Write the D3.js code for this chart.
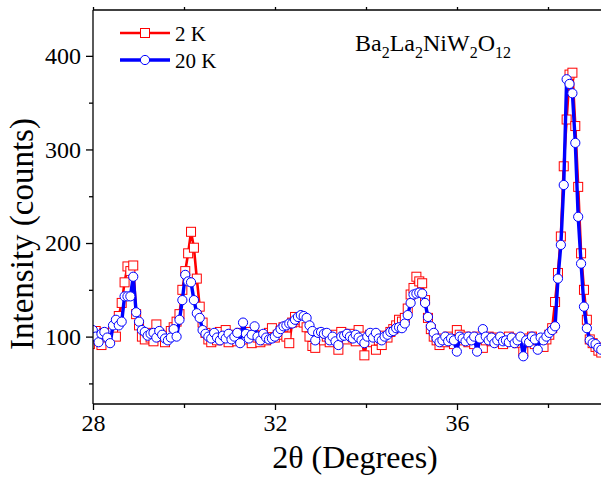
<!DOCTYPE html>
<html><head><meta charset="utf-8">
<script src="https://cdn.jsdelivr.net/npm/d3@7"></script>
<style>body{margin:0;background:#fff}svg{display:block}text{font-family:'Liberation Serif','Times New Roman',serif}</style>
</head><body>
<script>
// 2θ grid (degrees): start + step*i
const thetaStart = 27.932;
const thetaStep = 0.0635;
// Intensity at 2 K (red squares)
const counts2K = [92,100,106,97,91,104,99,102,106,100,
 122,136,158,175,170,176,124,112,100,97,
 104,99,95,113,103,100,94,101,106,110,
 116,124,150,170,189,212,195,162,132,115,
 104,97,94,102,96,105,99,107,94,102,
 98,95,104,100,97,105,93,102,99,94,
 101,96,104,109,99,102,106,110,100,93,
 115,121,116,118,115,110,100,90,88,99,
 103,96,100,94,98,102,86,105,100,97,
 103,99,95,107,100,80,97,102,94,86,
 96,91,101,99,105,108,112,118,116,120,
 130,145,152,164,159,157,139,120,108,100,
 96,91,98,94,100,96,92,107,102,96,
 100,94,98,92,100,97,88,96,100,95,
 99,94,98,92,97,100,95,98,93,96,
 84,94,98,100,92,96,94,89,97,102,
 109,137,168,207,282,332,380,382,325,260,
 189,150,118,97,93,89,85,83];
// Intensity at 20 K (blue circles)
const counts20K = [105,107,100,94,103,105,99,93,112,118,
 112,116,143,143,143,164,126,116,107,105,
 101,103,104,99,106,102,98,96,99,108,
 100,118,139,166,159,158,139,125,120,107,
 103,100,98,104,99,96,101,98,103,97,
 100,104,93,115,103,98,102,111,100,96,
 103,99,97,98,100,104,108,111,112,114,
 114,118,121,123,122,120,112,106,96,104,
 105,103,104,96,100,95,91,100,101,103,
 100,98,102,99,96,93,100,104,99,104,
 98,96,100,102,105,106,109,110,109,114,
 123,136,145,146,147,146,136,121,111,104,
 98,94,96,100,95,98,96,84,100,98,
 95,100,96,100,84,98,108,100,96,99,
 93,96,100,95,96,94,99,93,96,100,
 79,96,94,100,97,86,99,96,100,104,
 107,111,162,198,262,375,370,360,307,228,
 178,132,109,96,93,92,88,86];
const xTicks = [28, 32, 36];
const xMinor = [30, 34, 38];
const yTicks = [100, 200, 300, 400];
const yMinor = [50, 150, 250, 350];

const W = 601, H = 477;
const svg = d3.select("body").append("svg").attr("width", W).attr("height", H);
const x = d3.scaleLinear().domain([28, 39.5]).range([93, 616.25]);
const y = d3.scaleLinear().domain([28, 449]).range([404, 10]);
const font = "'Liberation Serif','Times New Roman',serif";

const d2 = counts2K.map((v,i)=>({t: thetaStart + thetaStep*i, v}));
const d20 = counts20K.map((v,i)=>({t: thetaStart + thetaStep*i, v}));

svg.append("defs").append("clipPath").attr("id","clip")
  .append("rect").attr("x",93).attr("y",10).attr("width",W-93).attr("height",394);

const g = svg.append("g").attr("clip-path","url(#clip)");
const line = d3.line().x(d=>x(d.t)).y(d=>y(d.v));

g.append("path").datum(d2).attr("d", line).attr("fill","none").attr("stroke","#ff0000").attr("stroke-width",2.6).attr("stroke-linejoin","round");
g.selectAll("rect.sq").data(d2).join("rect").attr("class","sq")
  .attr("x", d=>x(d.t)-4.5).attr("y", d=>y(d.v)-4.5).attr("width",9).attr("height",9)
  .attr("fill","#fff").attr("stroke","#ff0000").attr("stroke-width",1);
g.append("path").datum(d20).attr("d", line).attr("fill","none").attr("stroke","#0000ff").attr("stroke-width",3.4).attr("stroke-linejoin","round");
g.selectAll("circle.ci").data(d20).join("circle").attr("class","ci")
  .attr("cx", d=>x(d.t)).attr("cy", d=>y(d.v)).attr("r",4.6)
  .attr("fill","#fff").attr("stroke","#0000ff").attr("stroke-width",1);

// axes
const ax = svg.append("g").attr("stroke","#000").attr("stroke-width",1.3);
ax.append("line").attr("x1",93).attr("x2",W).attr("y1",404).attr("y2",404);
ax.append("line").attr("x1",93).attr("x2",W).attr("y1",10).attr("y2",10);
ax.append("line").attr("x1",93).attr("x2",93).attr("y1",10).attr("y2",404);

const bottomAxis = d3.axisBottom(x).tickValues(xTicks).tickSize(6).tickPadding(4).tickFormat(d3.format("d"));
const bg = svg.append("g").attr("transform","translate(0,404)").call(bottomAxis);
bg.attr("font-family", null);
bg.select(".domain").remove();
bg.selectAll("text").style("font-family",font).attr("font-size",24).attr("fill","#000");
bg.selectAll("line").attr("stroke-width",1.3);
const bm = svg.append("g").attr("transform","translate(0,404)").call(d3.axisBottom(x).tickValues(xMinor).tickSize(4).tickFormat(""));
bm.select(".domain").remove(); bm.selectAll("line").attr("stroke-width",1.3);

const topG = svg.append("g").attr("transform","translate(0,10)").call(d3.axisTop(x).tickValues(xTicks.concat(xMinor)).tickSize(3).tickFormat(""));
topG.select(".domain").remove(); topG.selectAll("line").attr("stroke-width",1.3);

const leftAxis = d3.axisLeft(y).tickValues(yTicks).tickSize(7).tickPadding(5).tickFormat(d3.format("d"));
const lg = svg.append("g").attr("transform","translate(93,0)").call(leftAxis);
lg.attr("font-family", null);
lg.select(".domain").remove();
lg.selectAll("text").style("font-family",font).attr("font-size",24).attr("fill","#000");
lg.selectAll("line").attr("stroke-width",1.3);
const lm = svg.append("g").attr("transform","translate(93,0)").call(d3.axisLeft(y).tickValues(yMinor).tickSize(4).tickFormat(""));
lm.select(".domain").remove(); lm.selectAll("line").attr("stroke-width",1.3);

// axis titles
svg.append("text").attr("x",355).attr("y",468).attr("text-anchor","middle")
  .attr("font-family",font).attr("font-size",32).text("2θ (Degrees)");
svg.append("text").attr("transform","translate(33,234) rotate(-90)").attr("text-anchor","middle")
  .attr("font-family",font).attr("font-size",33).text("Intensity (counts)");

// legend
const leg = [{label:"2 K", color:"#ff0000", shape:"sq", y:33},{label:"20 K", color:"#0000ff", shape:"ci", y:60}];
leg.forEach(l=>{
  svg.append("line").attr("x1",120).attr("x2",170).attr("y1",l.y).attr("y2",l.y)
    .attr("stroke",l.color).attr("stroke-width", l.shape==="sq"?2.6:3.4);
  if (l.shape==="sq") svg.append("rect").attr("x",140.5).attr("y",l.y-4.5).attr("width",9).attr("height",9).attr("fill","#fff").attr("stroke",l.color);
  else svg.append("circle").attr("cx",145).attr("cy",l.y).attr("r",4.6).attr("fill","#fff").attr("stroke",l.color);
  svg.append("text").attr("x",175).attr("y",l.y+7.5).attr("font-family",font).attr("font-size",21).text(l.label);
});

// compound label
const formulaParts = [["Ba",0],["2",1],["La",0],["2",1],["NiW",0],["2",1],["O",0],["12",1]];
const t = svg.append("text").attr("x",355).attr("y",51).attr("font-family",font).attr("font-size",24);
formulaParts.forEach(([s,sub],i)=>{
  const ts = t.append("tspan").text(s);
  if (sub) ts.attr("font-size",16).attr("dy",7);
  else if (i>0) ts.attr("dy",-7);
});
</script>
</body></html>
